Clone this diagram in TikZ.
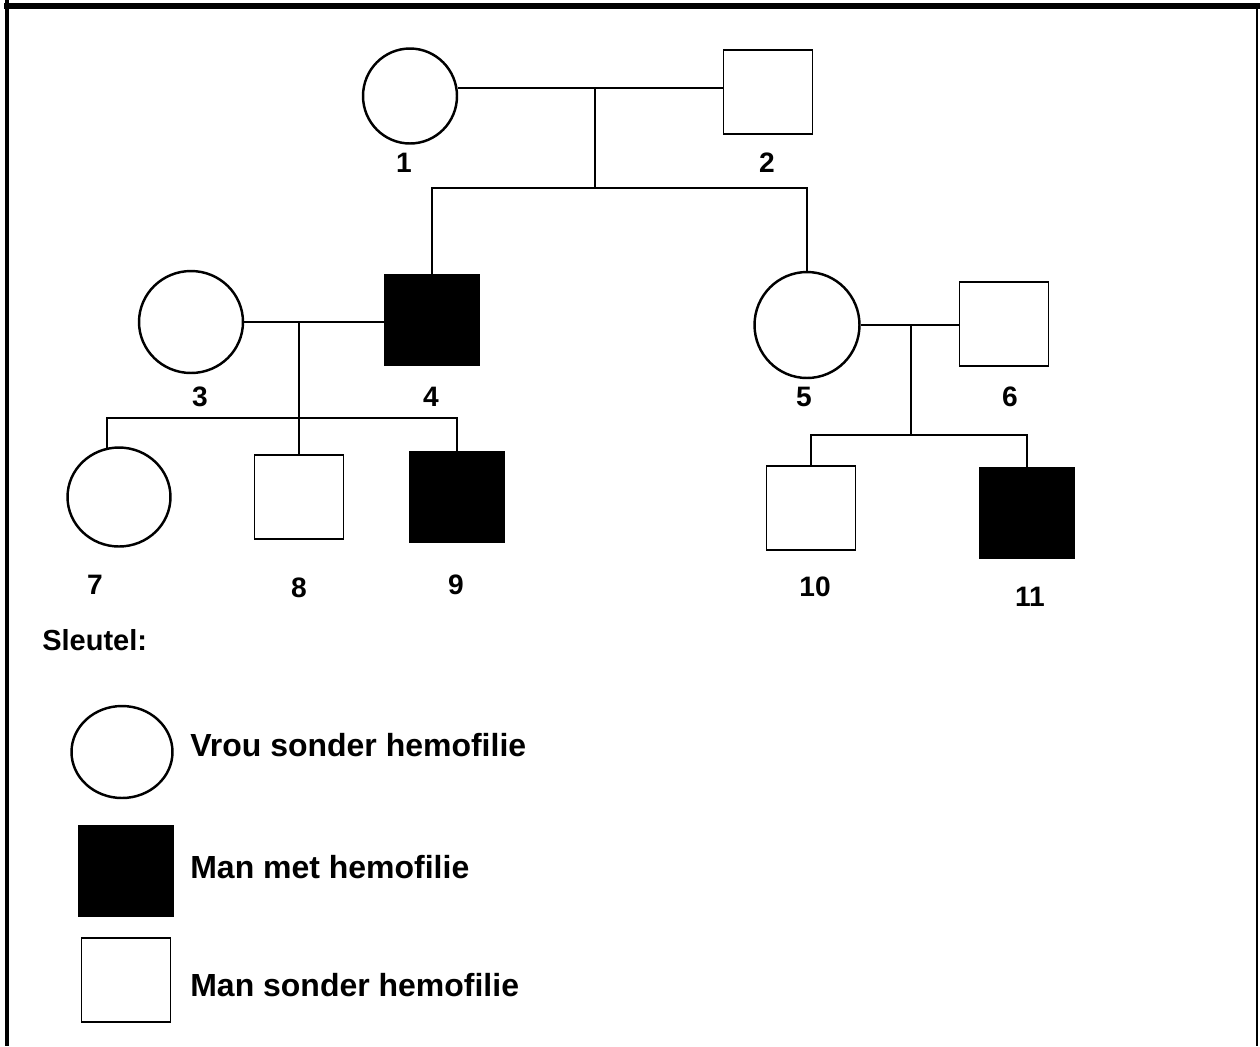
\documentclass[tikz,border=0pt]{standalone}
\usepackage{fontspec}
\setmainfont{Liberation Sans}
\usepackage{tikz}
\usetikzlibrary{shapes.geometric, positioning, calc}
\tikzset{
  fem/.style={ellipse, draw, line width=1.4pt, inner sep=0pt,
              minimum width=2.08cm, minimum height=2.04cm},
  male/.style={rectangle, draw, line width=1.1pt, inner sep=0pt,
               minimum width=1.78cm, minimum height=1.68cm},
  affected/.style={male, fill=black, minimum width=1.88cm, minimum height=1.8cm},
  num/.style={inner sep=0pt, font=\fontsize{16}{19}\selectfont\bfseries},
  keytext/.style={inner sep=0pt, anchor=west, font=\fontsize{18.2}{22}\selectfont\bfseries},
  link/.style={line width=1.1pt},
}

\begin{document}
\begin{tikzpicture}[x=0.02cm, y=-0.02cm]
  \useasboundingbox (0,0) rectangle (1260,1046);
  % frame
  \draw[line width=2.8pt] (7,0) -- (7,1046);
  \draw[line width=3pt] (4,6) -- (1260,6);
  \draw[line width=1.5pt] (1257,6) -- (1257,1046);

  % generation I
  \node[fem, minimum width=1.88cm, minimum height=1.9cm] (p1) at (410,96) {};
  \node[male] (p2) at (768,92) {};
  \node[num] at (404,163) {1};
  \node[num] at (767,163) {2};

  % generation II
  \node[fem, minimum width=2.08cm, minimum height=2.04cm] (p3) at (191,322) {};
  \node[affected] (p4) at (432,320) {};
  \node[fem, minimum width=2.1cm, minimum height=2.12cm] (p5) at (807,325) {};
  \node[male] (p6) at (1004,324) {};
  \node[num] at (200,397) {3};
  \node[num] at (431,397) {4};
  \node[num] at (804,397) {5};
  \node[num] at (1010,397) {6};

  % generation III
  \node[fem, minimum width=2.06cm, minimum height=1.98cm] (p7) at (119,497) {};
  \node[male] (p8) at (299,497) {};
  \node[affected] (p9) at (457,497) {};
  \node[male] (p10) at (811,508) {};
  \node[affected] (p11) at (1027,513) {};
  \node[num] at (95,585) {7};
  \node[num] at (299,588) {8};
  \node[num] at (456,585) {9};
  \node[num] at (815,587) {10};
  \node[num] at (1030,597) {11};

  % marriage and sibship lines
  \coordinate (m12) at (595,88);
  \coordinate (s12) at (595,188);
  \coordinate (m34) at (299,323);
  \coordinate (s34) at (299,418);
  \coordinate (m56) at (911,326);
  \coordinate (s56) at (911,435);

  \draw[link] (m12 -| p1.east) -- (m12 -| p2.west);
  \draw[link] (m12) -- (s12);
  \draw[link] (p4.north) |- (s12) -| (p5.north);

  \draw[link] (p3.east) -- (p3.east -| p4.west);
  \draw[link] (m34) -- (p8.north);
  \draw[link] (p7.104) |- (s34) -| (p9.north);

  \draw[link] (p5.east) -- (p5.east -| p6.west);
  \draw[link] (m56) -- (s56);
  \draw[link] (p10.north) |- (s56) -| (p11.north);

  % key
  \node[keytext, font=\fontsize{16.5}{20}\selectfont\bfseries] (key) at (42,640) {Sleutel:};
  \node[fem, minimum width=2.02cm, minimum height=1.84cm] (kf) at (122,752) {};
  \node[keytext] (kftxt) at (190,745) {Vrou sonder hemofilie};
  \node[affected] (ka) at (126,871) {};
  \node[keytext] (katxt) at (190,867) {Man met hemofilie};
  \node[male] (km) at (126,980) {};
  \node[keytext] (kmtxt) at (190,985) {Man sonder hemofilie};
\end{tikzpicture}
\end{document}
